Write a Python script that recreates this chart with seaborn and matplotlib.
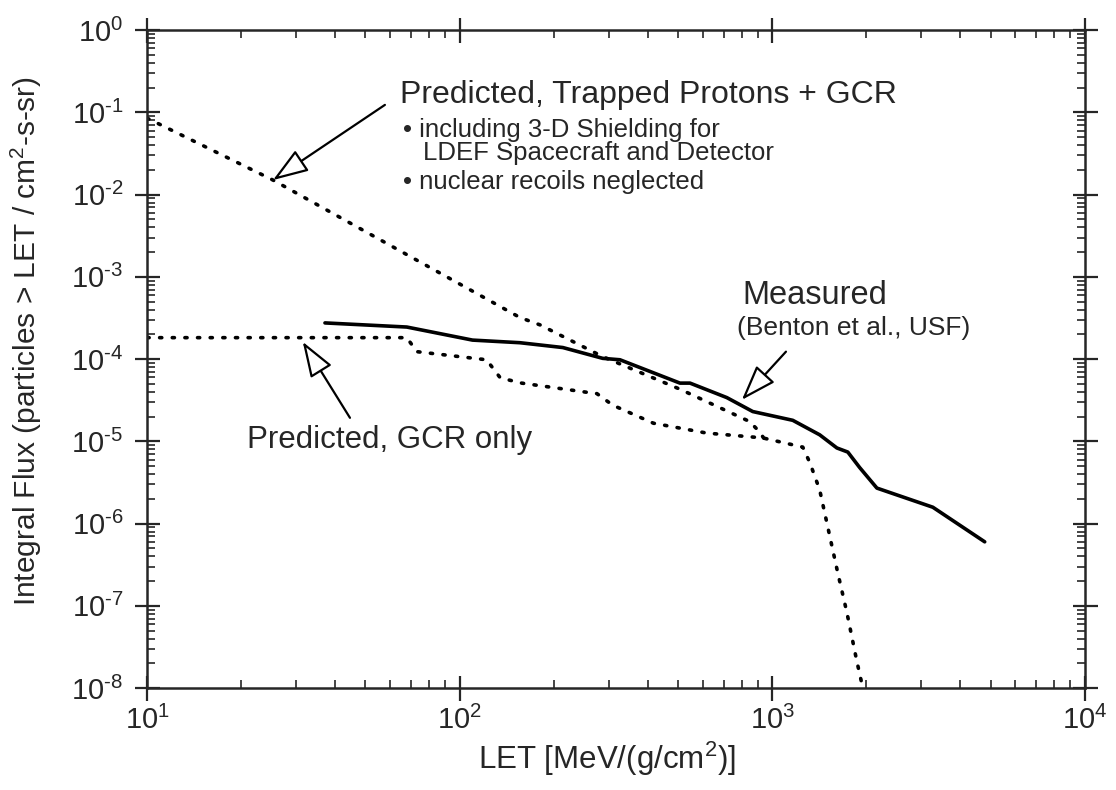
import matplotlib
matplotlib.use("Agg")
import matplotlib.pyplot as plt
import matplotlib.ticker as mticker
import numpy as np
import pandas as pd
import seaborn as sns

# values (LET in MeV/(g/cm2), flux in particles/cm2-s-sr)
trapped_let = [10, 25.3, 67.8, 156, 181, 287, 507, 847, 912, 946]
trapped_flux = [8.5e-2, 1.5e-2, 1.86e-3, 3.2e-4, 2.6e-4, 1.07e-4, 4.3e-5, 1.74e-5, 1.3e-5, 1.05e-5]

gcr_let = [10, 67.8, 73, 122, 135, 158, 261, 275, 309, 417, 617, 933, 1253,
           1320, 1419, 1622, 1734, 1862, 1950]
gcr_flux = [1.82e-4, 1.82e-4, 1.23e-4, 9.8e-5, 5.9e-5, 5.1e-5, 3.9e-5, 3.8e-5, 2.75e-5,
            1.66e-5, 1.26e-5, 1.1e-5, 8.5e-6, 5.5e-6, 2.57e-6, 2.5e-7, 8.3e-8, 2.2e-8, 1e-8]

meas_let = [37.1, 67.8, 110, 156, 214, 287, 326, 507, 546, 716, 867, 1164, 1419,
            1611, 1746, 1905, 2163, 3266, 4786]
meas_flux = [2.75e-4, 2.45e-4, 1.7e-4, 1.58e-4, 1.38e-4, 1.02e-4, 9.8e-5, 5.1e-5, 5.1e-5,
             3.4e-5, 2.3e-5, 1.8e-5, 1.2e-5, 8.3e-6, 7.4e-6, 4.8e-6, 2.7e-6, 1.58e-6, 6.0e-7]

sns.set_style("ticks")
plt.rcParams['font.family'] = ['Liberation Sans', 'DejaVu Sans']
plt.rcParams['mathtext.fontset'] = 'custom'
plt.rcParams['mathtext.rm'] = 'Liberation Sans'
plt.rcParams['mathtext.it'] = 'Liberation Sans'
plt.rcParams['axes.unicode_minus'] = False

fig = plt.figure(figsize=(11.16, 7.9), dpi=100)
ax = fig.add_axes([0.1317, 0.129, 0.8403, 0.833])

dot = dict(color="black", linewidth=2.6, linestyle=(0, (0.6, 2.9)),
           dash_capstyle="round", estimator=None, sort=False, legend=False)
sns.lineplot(data=pd.DataFrame({"x": trapped_let, "y": trapped_flux}), x="x", y="y", ax=ax, **dot)
sns.lineplot(data=pd.DataFrame({"x": gcr_let, "y": gcr_flux}), x="x", y="y", ax=ax, **dot)
sns.lineplot(data=pd.DataFrame({"x": meas_let, "y": meas_flux}), x="x", y="y", ax=ax,
             color="black", linewidth=2.6, estimator=None, sort=False, legend=False)

ax.set_xscale("log")
ax.set_yscale("log")
ax.set_xlim(10, 1e4)
ax.set_ylim(1e-8, 1)
ax.xaxis.set_major_locator(mticker.LogLocator(base=10, numticks=10))
ax.yaxis.set_major_locator(mticker.LogLocator(base=10, numticks=20))
ax.xaxis.set_minor_locator(mticker.LogLocator(base=10, subs=np.arange(2, 10), numticks=20))
ax.yaxis.set_minor_locator(mticker.LogLocator(base=10, subs=np.arange(2, 10), numticks=20))
ax.xaxis.set_minor_formatter(mticker.NullFormatter())
ax.yaxis.set_minor_formatter(mticker.NullFormatter())

# short hyphen in the exponent, like the original scan
def pow10(v, pos):
    n = int(round(np.log10(v)))
    e = ("\\text{-}%d" % -n) if n < 0 else "%d" % n
    return "$\\mathdefault{10^{%s}}$" % e
ax.xaxis.set_major_formatter(mticker.FuncFormatter(pow10))
ax.yaxis.set_major_formatter(mticker.FuncFormatter(pow10))

for s in ax.spines.values():
    s.set_linewidth(1.8)
ax.tick_params(which="major", direction="inout", length=18, width=1.6,
               top=True, right=True, labelsize=21, pad=4)
ax.tick_params(axis="y", which="major", pad=8)
ax.tick_params(which="minor", direction="in", length=6, width=1.2, top=True, right=True)

ax.set_xlabel("LET [MeV/(g/cm$^2$)]", fontsize=22.5)
ax.set_ylabel("Integral Flux (particles > LET / cm$^2$-s-sr)", fontsize=21.5)
ax.xaxis.set_label_coords(0.490, -0.078)
ax.yaxis.set_label_coords(-0.110, 0.527)

W, H = 1116, 790
def ftext(px, py, s, size):
    fig.text(px / W, 1 - py / H, s, fontsize=size, ha="left", va="center")

ftext(400, 95, "Predicted, Trapped Protons + GCR", 23)
ftext(403, 130, "• including 3-D Shielding for", 18.5)
ftext(423, 153, "LDEF Spacecraft and Detector", 18.5)
ftext(403, 182, "• nuclear recoils neglected", 18.5)
ftext(742, 296, "Measured", 23.5)
ftext(737, 328, "(Benton et al., USF)", 19)
ftext(247, 440, "Predicted, GCR only", 22.5)

arrow = dict(arrowstyle="-|>,head_length=1.0,head_width=0.35", fc="white", ec="black",
             lw=1.6, shrinkA=0, shrinkB=0, mutation_scale=22)
ax.annotate("", xy=(25.3, 1.5e-2), xytext=(57.7, 0.123), arrowprops=arrow)
ax.annotate("", xy=(800, 3.19e-5), xytext=(1107, 1.23e-4), arrowprops=arrow)
ax.annotate("", xy=(31.5, 1.62e-4), xytext=(44.6, 1.93e-5), arrowprops=arrow)

fig.savefig("out.png", dpi=100)
